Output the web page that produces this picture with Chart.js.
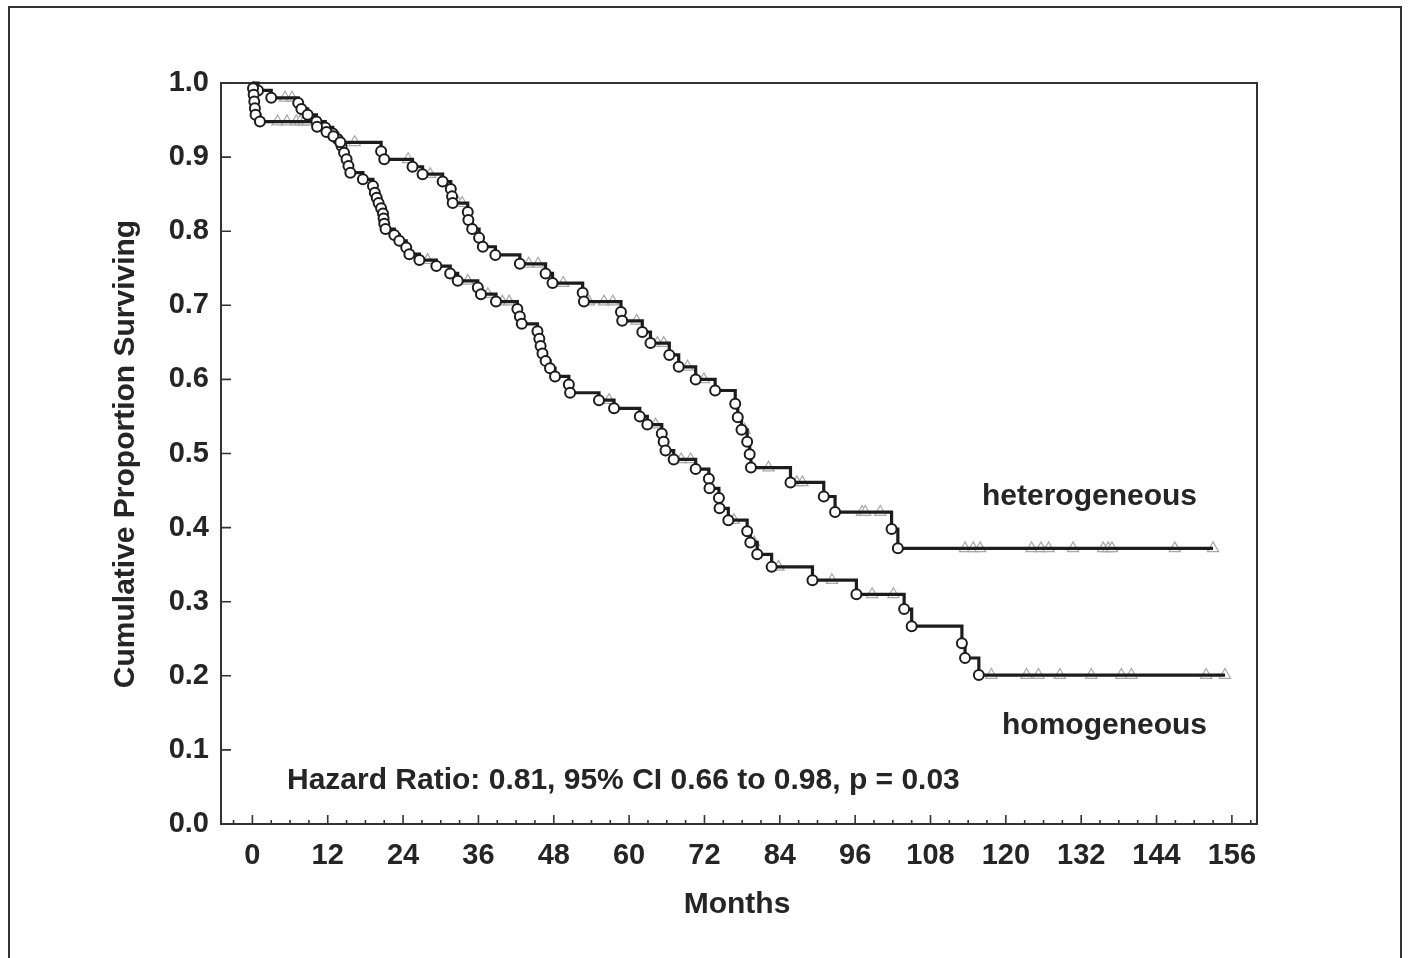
<!DOCTYPE html>
<html><head><meta charset="utf-8">
<script src="https://cdn.jsdelivr.net/npm/chart.js@4.4.1/dist/chart.umd.min.js"></script>
<style>
html,body{margin:0;padding:0;background:#fff;}
#wrap{position:relative;width:1410px;height:958px;overflow:hidden;background:#fff;}
#frame{position:absolute;left:8px;top:6px;width:1394px;height:1000px;border:2px solid #333;box-sizing:border-box;}
canvas{position:absolute;left:0;top:0;}
</style></head><body>
<div id="wrap"><div id="frame"></div><canvas id="c" width="1410" height="958"></canvas></div>
<script>
// ---- data ----
const xTickValues = [0,12,24,36,48,60,72,84,96,108,120,132,144,156];
const yTickValues = [0,0.1,0.2,0.3,0.4,0.5,0.6,0.7,0.8,0.9,1.0];

const hetEventMonths = [0.1,0.2,0.3,0.4,0.5,1.2, 10.3,11.8,12.9,14.0, 20.5,21.0, 25.5,27.1, 30.3,31.6,31.8,31.9, 34.3,34.4,35.0,36.1,36.7,38.7, 42.6, 46.7,47.8, 52.6,52.8, 58.7,58.9, 62.1,63.4, 66.4,67.9, 70.6, 73.7, 76.9,77.3,77.9, 78.8,79.2,79.4, 85.7, 91.0,92.8, 101.8,102.8];
const hetEventSurv   = [0.993,0.984,0.975,0.966,0.957,0.948, 0.941,0.934,0.928,0.920, 0.908,0.897, 0.887,0.877, 0.867,0.857,0.847,0.838, 0.826,0.815,0.803,0.791,0.779,0.768, 0.756, 0.743,0.730, 0.717,0.705, 0.691,0.679, 0.664,0.649, 0.633,0.617, 0.600, 0.585, 0.567,0.549,0.532, 0.516,0.499,0.481, 0.461, 0.442,0.421, 0.398,0.372];
const hetCensorMonths = [4.0,5.5,7.0,7.6,8.2,8.8, 16.3, 24.8, 28.3, 32.8,33.4, 44.0,45.5, 49.5, 53.6,56.0,57.4, 61.2, 64.5,65.5, 69.3, 71.9, 78.4, 82.2, 86.7,87.6, 97.1,97.6,100.0, 113.5,114.8,115.9, 124.1,125.6,126.8, 130.7, 135.5,136.3,136.9, 146.9, 153.0];

const homEventMonths = [0.9,3.0, 7.3,7.8,8.8,10.2,11.6,12.8,13.6,14.2,14.6,15.0,15.3,15.6, 17.6, 19.2,19.5,19.8,20.1,20.5,20.8,20.9,21.0,21.2, 22.6,23.4,24.5,25.0,26.6, 29.3,31.5,32.7, 35.9,36.4, 38.8, 42.2,42.6,42.9, 45.4,45.7,45.9,46.2,46.7,47.4,48.2, 50.4,50.6, 55.2,57.6, 61.7,62.9, 65.2,65.5,65.8,67.1, 70.6,72.7,72.8, 74.3,74.4,75.8, 78.8,79.3,80.4,82.7, 89.2, 96.2, 103.8,105.0, 113.0,113.5,115.7];
const homEventSurv   = [0.990,0.980, 0.973,0.965,0.957,0.948,0.940,0.932,0.924,0.915,0.906,0.897,0.888,0.879, 0.870, 0.861,0.852,0.845,0.838,0.831,0.824,0.817,0.810,0.803, 0.795,0.787,0.778,0.769,0.761, 0.753,0.743,0.733, 0.724,0.715, 0.705, 0.695,0.685,0.675, 0.665,0.655,0.645,0.635,0.625,0.615,0.604, 0.593,0.582, 0.572,0.561, 0.550,0.539, 0.527,0.516,0.504,0.492, 0.479,0.466,0.453, 0.440,0.426,0.410, 0.395,0.380,0.364,0.347, 0.329, 0.310, 0.290,0.267, 0.244,0.224,0.201];
const homCensorMonths = [5.2,6.3, 27.9, 34.3, 37.5, 39.8,40.9, 56.8, 64.2, 68.3,69.8, 76.7, 79.9, 83.8, 92.3, 98.7,102.1, 117.7, 123.3,125.2, 128.6, 133.6, 138.4,140.0, 151.9, 154.9];

const seriesLabels = ['heterogeneous','homogeneous'];
const hazardText = 'Hazard Ratio: 0.81, 95% CI 0.66 to 0.98, p = 0.03';
const xTitle = 'Months';
const yTitle = 'Cumulative Proportion Surviving';

// ---- helpers (build library data from the arrays) ----
function survAt(t, months, surv){
  let s = 1;
  for (let i=0;i<months.length;i++){ if (months[i] <= t) s = surv[i]; }
  return s;
}
function stepLine(months, surv, cens){
  const pts = [{x:0,y:1}];
  const all = [];
  months.forEach((m,i)=>all.push({x:m,y:surv[i]}));
  cens.forEach(m=>all.push({x:m,y:survAt(m,months,surv)}));
  all.sort((a,b)=>a.x-b.x);
  return pts.concat(all);
}
const evPts = (months,surv)=>months.map((m,i)=>({x:m,y:surv[i]}));
const cnPts = (months,surv,cens)=>cens.map(m=>({x:m,y:survAt(m,months,surv)}));

const INK = '#252525';
const FAMILY = '"Liberation Sans", Arial, Helvetica, sans-serif';
const FONT = 'bold 30px ' + FAMILY;

const lineDs = (data)=>({data, showLine:true, stepped:'before', borderColor:'#1c1c1c', borderWidth:3.2,
  pointRadius:0, pointHoverRadius:0, fill:false, order:1, clip:false});
const evDs = (data)=>({data, showLine:false, pointStyle:'circle', pointRadius:5, pointBorderWidth:2,
  pointBorderColor:'#1c1c1c', pointBackgroundColor:'#fff', order:0, clip:false});
const cnDs = (data)=>({data, showLine:false, pointStyle:'triangle', pointRadius:6.5, pointBorderWidth:1.2,
  pointBorderColor:'#a8a8a8', pointBackgroundColor:'rgba(255,255,255,0.9)', order:2, clip:false});

const boxPlugin = {
  id:'kmBox',
  beforeDatasetsDraw(chart){
    const {ctx, chartArea:a, scales:{x,y}} = chart;
    ctx.save();
    ctx.strokeStyle = '#333';
    ctx.lineWidth = 2;
    ctx.strokeRect(a.left, a.top, a.right-a.left, a.bottom-a.top);
    ctx.lineWidth = 1.6;
    ctx.beginPath();
    xTickValues.forEach(v=>{
      const p = x.getPixelForValue(v);
      ctx.moveTo(p, a.bottom); ctx.lineTo(p, a.bottom-9);
    });
    // minor ticks every 3 months
    const minors = [];
    xTickValues.forEach(v=>{ [-3,3,6,9].forEach(d=>minors.push(v+d)); });
    minors.forEach(v=>{
      if (v <= x.min || v >= x.max || xTickValues.includes(v)) return;
      const p = x.getPixelForValue(v);
      ctx.moveTo(p, a.bottom); ctx.lineTo(p, a.bottom-4);
    });
    yTickValues.forEach(v=>{
      const p = y.getPixelForValue(v);
      ctx.moveTo(a.left, p); ctx.lineTo(a.left+10, p);
    });
    ctx.stroke();
    ctx.restore();
  },
  afterDraw(chart){
    const {ctx} = chart;
    ctx.save();
    ctx.fillStyle = INK;
    ctx.font = FONT;
    ctx.textBaseline = 'middle';
    ctx.textAlign = 'left';
    ctx.fillText(hazardText, 287, 781);
    ctx.fillText(seriesLabels[0], 982, 497);
    ctx.fillText(seriesLabels[1], 1002, 726);
    ctx.textAlign = 'center';
    ctx.fillText(xTitle, 737, 905);
    ctx.translate(126, 454);
    ctx.rotate(-Math.PI/2);
    ctx.fillText(yTitle, 0, 0);
    ctx.restore();
  }
};

new Chart(document.getElementById('c'), {
  type:'scatter',
  data:{ datasets:[
    evDs(evPts(hetEventMonths, hetEventSurv)),
    evDs(evPts(homEventMonths, homEventSurv)),
    lineDs(stepLine(hetEventMonths, hetEventSurv, hetCensorMonths)),
    lineDs(stepLine(homEventMonths, homEventSurv, homCensorMonths)),
    cnDs(cnPts(hetEventMonths, hetEventSurv, hetCensorMonths)),
    cnDs(cnPts(homEventMonths, homEventSurv, homCensorMonths))
  ]},
  options:{
    responsive:false, animation:false, devicePixelRatio:1,
    layout:{padding:{top:83, right:153, left:0, bottom:0}},
    plugins:{legend:{display:false}, tooltip:{enabled:false}},
    events:[],
    scales:{
      x:{type:'linear', min:-5, max:160,
        afterBuildTicks:(s)=>{ s.ticks = xTickValues.map(v=>({value:v})); },
        afterFit:(s)=>{ s.height = 134; },
        grid:{display:false, drawTicks:false}, border:{display:false},
        ticks:{autoSkip:false, maxRotation:0, padding:15, color:INK,
          font:{family:FAMILY, size:29, weight:'bold'}}
      },
      y:{type:'linear', min:0, max:1,
        afterBuildTicks:(s)=>{ s.ticks = yTickValues.map(v=>({value:v})); },
        afterFit:(s)=>{ s.width = 221; },
        grid:{display:false, drawTicks:false}, border:{display:false},
        ticks:{autoSkip:false, padding:12, color:INK, callback:(v)=>Number(v).toFixed(1),
          font:{family:FAMILY, size:29, weight:'bold'}}
      }
    }
  },
  plugins:[boxPlugin]
});
</script>
</body></html>
